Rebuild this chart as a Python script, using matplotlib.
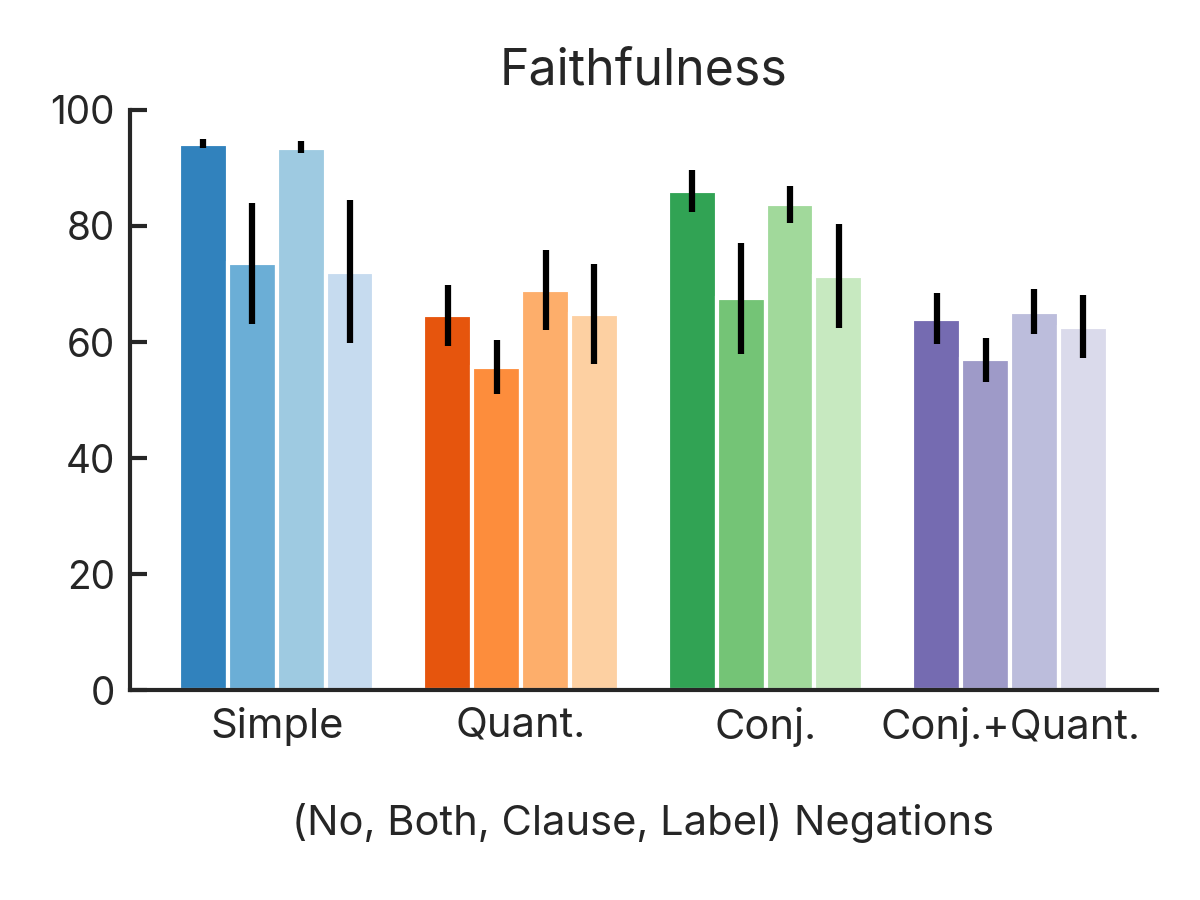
import matplotlib.pyplot as plt
import numpy as np

plt.rcParams['font.family'] = ['Inter', 'DejaVu Sans']
plt.rcParams['text.color'] = '#262626'
plt.rcParams['axes.labelcolor'] = '#262626'
plt.rcParams['xtick.color'] = '#262626'
plt.rcParams['ytick.color'] = '#262626'

categories = ['Simple', 'Quant.', 'Conj.', 'Conj.+Quant.']
negations = ['No', 'Both', 'Clause', 'Label']

# rows: category, columns: negation type
means = np.array([
    [94.2, 73.7, 93.5, 72.1],
    [64.7, 55.7, 69.0, 64.9],
    [86.1, 67.6, 83.8, 71.4],
    [64.0, 57.0, 65.2, 62.6],
])
ci_low = np.array([
    [93.5, 63.1, 92.5, 59.9],
    [59.3, 51.0, 62.1, 56.2],
    [82.4, 57.9, 80.5, 62.4],
    [59.7, 53.1, 61.4, 57.2],
])
ci_high = np.array([
    [95.0, 84.0, 94.7, 84.5],
    [69.8, 60.3, 75.9, 73.4],
    [89.7, 77.1, 86.9, 80.3],
    [68.4, 60.7, 69.1, 68.1],
])

cmap = plt.get_cmap('tab20c')

fig = plt.figure(figsize=(4, 3), dpi=300)
ax = fig.add_axes([0.1083, 0.2333, 0.8556, 0.6445])

x = np.arange(len(categories))
w = 0.2
for i in range(len(categories)):
    for j in range(len(negations)):
        xpos = x[i] - 0.3 + j * w
        ax.bar(xpos, means[i, j], width=w, color=cmap(4 * i + j),
               edgecolor='white', linewidth=1)
        ax.plot([xpos, xpos], [ci_low[i, j], ci_high[i, j]],
                color='black', lw=1.5, solid_capstyle='butt')

ax.set_xlim(-0.6, 3.6)
ax.set_ylim(0, 100)
ax.set_yticks([0, 20, 40, 60, 80, 100])
ax.set_xticks(x)
ax.set_xticklabels(categories, fontsize=10)
ax.tick_params(axis='x', length=0, pad=4)
ax.tick_params(axis='y', direction='in', length=4, width=1, labelsize=9.3, pad=3.6)

for s in ['top', 'right']:
    ax.spines[s].set_visible(False)
for s in ['left', 'bottom']:
    ax.spines[s].set_linewidth(1)
    ax.spines[s].set_color('#262626')

ax.set_xlabel('(No, Both, Clause, Label) Negations', fontsize=10, labelpad=13.4)
ax.set_title('Faithfulness', fontsize=12, pad=6)

fig.savefig('out.png', dpi=300)
